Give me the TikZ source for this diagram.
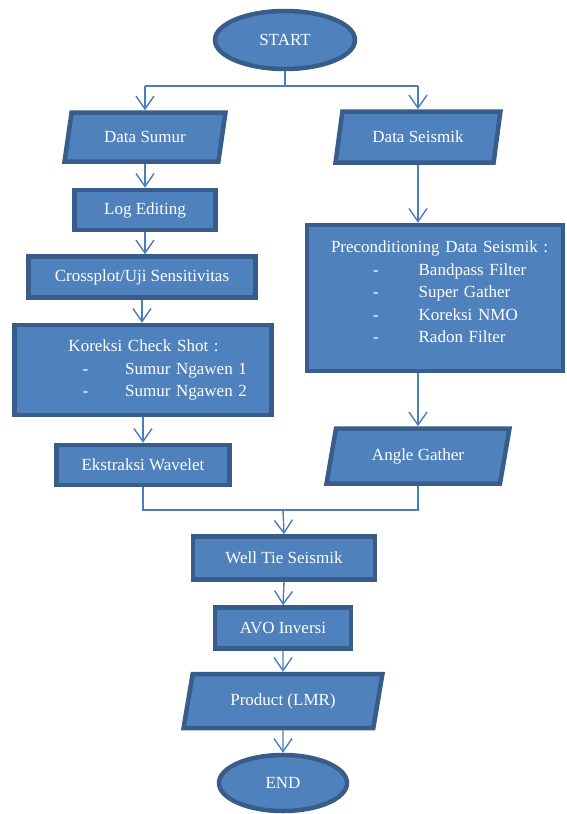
\documentclass[tikz,border=0pt]{standalone}
\usepackage{fontspec}
\setmainfont{Liberation Serif}
\usetikzlibrary{shapes.geometric,arrows.meta}
\definecolor{boxfill}{RGB}{79,129,189}
\definecolor{boxline}{RGB}{56,93,138}
\definecolor{arrline}{RGB}{74,126,187}

\begin{document}
\begin{tikzpicture}[x=1pt,y=-1pt,
  every node/.style={draw=boxline, line width=4.5pt, fill=boxfill, text=white,
    font=\fontsize{17}{22.5}\selectfont, inner sep=0pt, align=center},
  box/.style={rectangle},
  para/.style={trapezium, trapezium left angle=71, trapezium right angle=109,
    trapezium stretches=true},
  term/.style={ellipse},
  arr/.style={draw=arrline, line width=1.4pt, -{Straight Barb[length=13pt,width=18pt]}},
  link/.style={draw=arrline, line width=1.4pt}]

  \useasboundingbox (0,0) rectangle (566,814);

  % terminals
  \node[term, minimum width=140pt, minimum height=58pt] (start) at (285,40) {START};
  \node[term, minimum width=128pt, minimum height=56pt] (end) at (283,783) {END};

  % left column
  \node[para, minimum width=162pt, minimum height=49pt] (sumur) at (145,137) {Data Sumur};
  \node[box, minimum width=141pt, minimum height=40pt] (logedit) at (145,210) {Log Editing};
  \node[box, minimum width=227pt, minimum height=41pt] (crossplot) at (142,277) {Crossplot/Uji Sensitivitas};
  \node[box, minimum width=257pt, minimum height=90pt, text width=257pt, align=left] (checkshot) at (143,370)
    {\hspace*{54pt}Koreksi Check Shot :\\
     \hspace*{68pt}-\hspace*{37pt}Sumur Ngawen 1\\
     \hspace*{68pt}-\hspace*{37pt}Sumur Ngawen 2};
  \node[box, minimum width=173pt, minimum height=40pt] (wavelet) at (143,465) {Ekstraksi Wavelet};

  % right column
  \node[para, minimum width=166pt, minimum height=51pt] (seismik) at (418,137) {Data Seismik};
  \node[box, minimum width=256pt, minimum height=146pt, text width=256pt, align=left] (precond) at (435,298)
    {\hspace*{24pt}Preconditioning Data Seismik :\\
     \hspace*{66pt}-\hspace*{40pt}Bandpass Filter\\
     \hspace*{66pt}-\hspace*{40pt}Super Gather\\
     \hspace*{66pt}-\hspace*{40pt}Koreksi NMO\\
     \hspace*{66pt}-\hspace*{40pt}Radon Filter\\[-10pt]\mbox{}};
  \node[para, minimum width=183pt, minimum height=55pt] (angle) at (418,456) {Angle Gather};

  % bottom column
  \node[box, minimum width=182pt, minimum height=43pt] (welltie) at (284,558) {Well Tie Seismik};
  \node[box, minimum width=136pt, minimum height=41pt] (avo) at (283,628) {AVO Inversi};
  \node[para, minimum width=199pt, minimum height=54pt] (product) at (283,701) {Product (LMR)};

  % split after start
  \coordinate (split) at (285,86);
  \coordinate (splitL) at (sumur.north |- split);
  \coordinate (splitR) at (seismik.north |- split);
  \draw[link] (start.south) -- (split);
  \draw[link] (splitL) -- (splitR);
  \draw[arr] (splitL) -- (sumur.north);
  \draw[arr] (splitR) -- (seismik.north);

  % left flow
  \draw[arr] (sumur.south) -- (logedit.north -| sumur.south);
  \draw[arr] (logedit.south) -- (crossplot.north -| logedit.south);
  \draw[arr] (crossplot.south) -- (checkshot.north -| crossplot.south);
  \draw[arr] (checkshot.south) -- (wavelet.north -| checkshot.south);

  % right flow
  \draw[arr] (seismik.south) -- (precond.north -| seismik.south);
  \draw[arr] (precond.south -| angle.north) -- (angle.north);

  % merge
  \coordinate (merge) at (283,510);
  \draw[link] (wavelet.south) |- (merge) -| (angle.south);
  \draw[arr] (merge) -- (welltie.north);
  \draw[arr] (welltie.south) -- (avo.north);
  \draw[arr] (avo.south) -- (product.north);
  \draw[arr] (product.south) -- (end.north);
\end{tikzpicture}
\end{document}
